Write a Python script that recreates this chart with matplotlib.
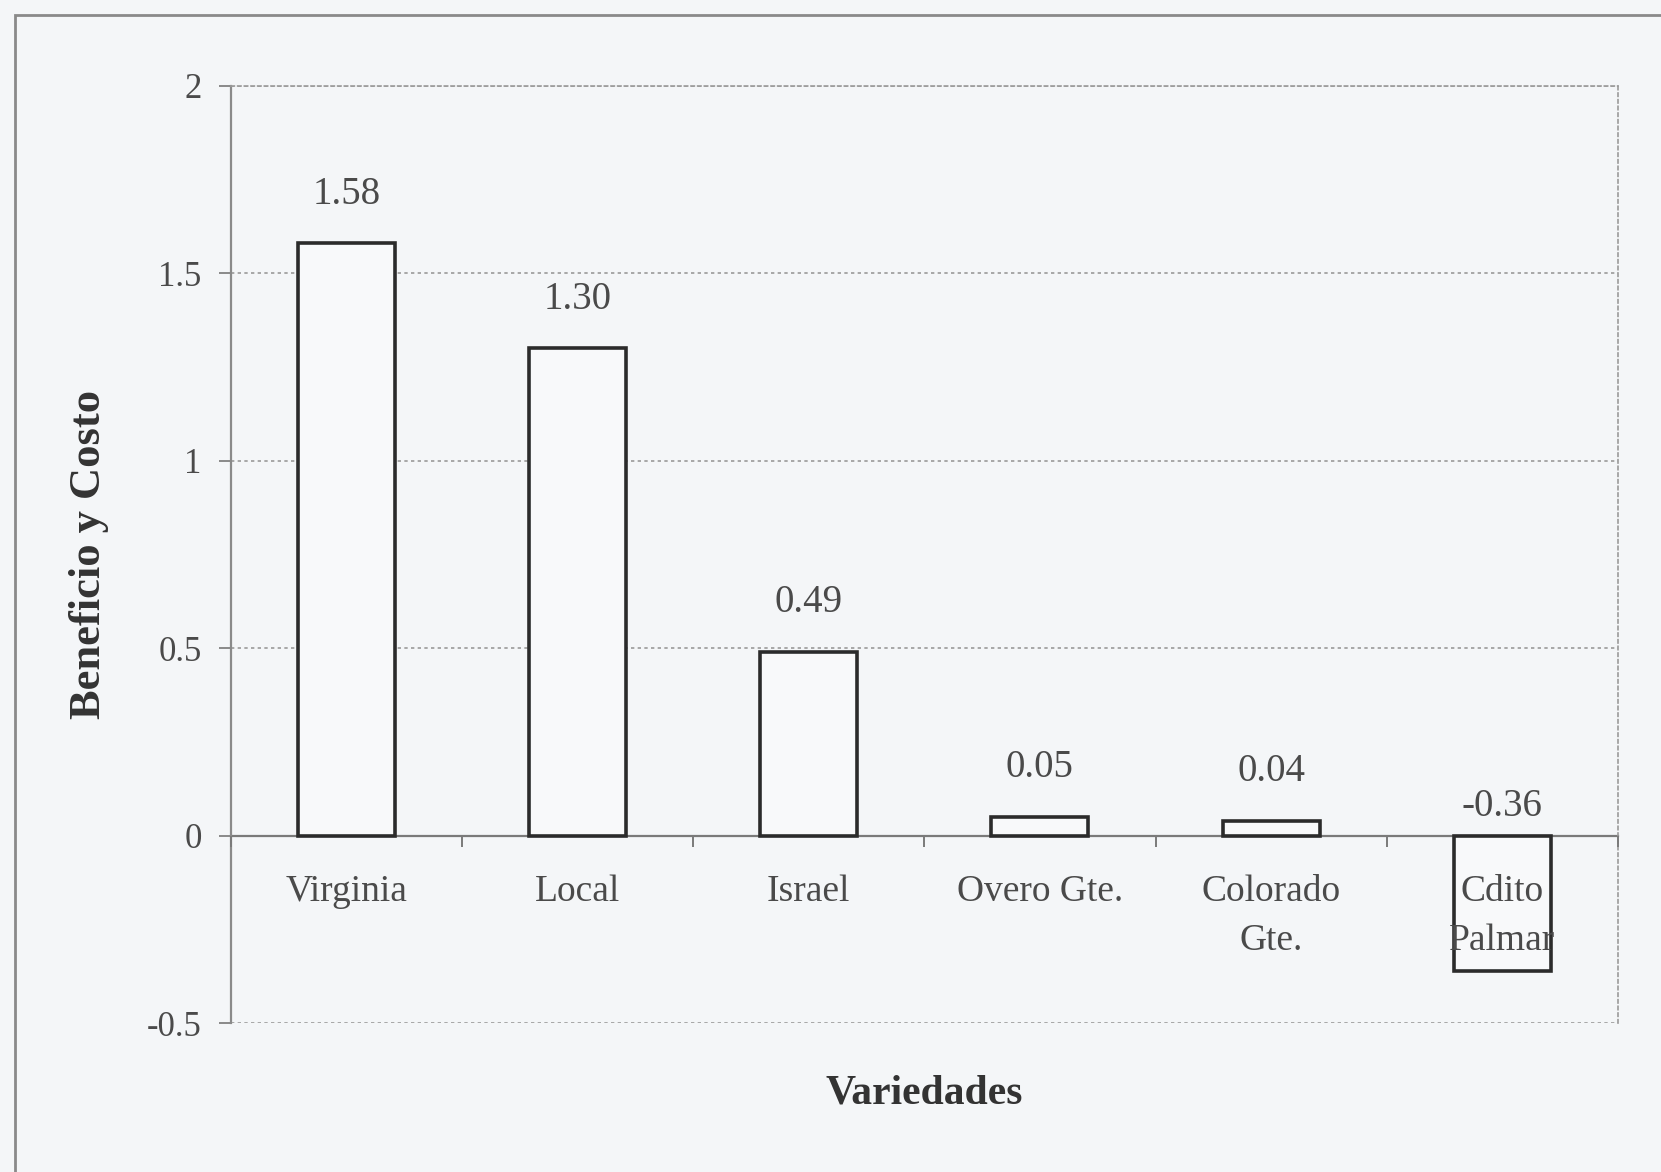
import matplotlib
matplotlib.use("Agg")
import matplotlib.pyplot as plt
from matplotlib.patches import Rectangle
from matplotlib.ticker import FixedLocator

# Benefit/cost ratio per variety
variedades = ["Virginia", "Local", "Israel", "Overo Gte.", "Colorado\nGte.", "Cdito\nPalmar"]
beneficio_costo = [1.58, 1.30, 0.49, 0.05, 0.04, -0.36]
etiquetas = ["1.58", "1.30", "0.49", "0.05", "0.04", "-0.36"]
y_ticks = [-0.5, 0, 0.5, 1, 1.5, 2]
y_tick_labels = ["-0.5", "0", "0.5", "1", "1.5", "2"]

bg = "#f4f6f8"
txt = "#4a4a4a"
grid_c = "#9a9a9a"

plt.rcParams["font.family"] = ["Liberation Serif", "DejaVu Serif"]

fig = plt.figure(figsize=(16.61, 11.72), dpi=100, facecolor=bg)
ax = fig.add_axes([0.139, 0.127, 0.835, 0.800])
ax.set_facecolor(bg)

# outer frame of the chart area
fig.patches.append(Rectangle((15 / 1661, -0.05), 1.2, 1 - 15 / 1172 + 0.05,
                             transform=fig.transFigure, fill=False,
                             edgecolor="#8a8a8a", linewidth=2.0))

x = list(range(len(variedades)))
bars = ax.bar(x, beneficio_costo, width=0.42, color="#f8f9fa",
              edgecolor="#2b2b2b", linewidth=2.6, zorder=3)

ax.set_xlim(-0.5, 5.5)
ax.set_ylim(-0.5, 2)

# dotted horizontal grid
for yv in [-0.5, 0.5, 1, 1.5, 2]:
    ax.axhline(yv, color=grid_c, linestyle=(0, (2, 2)), linewidth=1.2, zorder=1)

for side in ["top", "right"]:
    ax.spines[side].set_linestyle((0, (2, 2)))
    ax.spines[side].set_color(grid_c)
    ax.spines[side].set_linewidth(1.2)
ax.spines["left"].set_color("#8a8a8a")
ax.spines["left"].set_linewidth(1.6)
ax.spines["bottom"].set_position(("data", 0))
ax.spines["bottom"].set_color("#7a7a7a")
ax.spines["bottom"].set_linewidth(1.6)
ax.spines["bottom"].set_zorder(2)

ax.set_yticks(y_ticks)
ax.set_yticklabels(y_tick_labels)
ax.tick_params(axis="y", direction="out", length=9, width=1.4, color="#8a8a8a",
               labelsize=25, labelcolor=txt, pad=12)

ax.set_xticks(x)
ax.set_xticklabels(variedades, linespacing=1.55)
ax.xaxis.set_minor_locator(FixedLocator([i + 0.5 for i in range(-1, 6)]))
ax.tick_params(axis="x", which="major", length=0, labelsize=27,
               labelcolor=txt, pad=28)
ax.tick_params(axis="x", which="minor", direction="out", length=8, width=1.4,
               color="#7a7a7a")
# category names sit on top of the bars (the negative bar overlaps them)
ax.xaxis.set_zorder(4)

for xi, v, lab in zip(x, beneficio_costo, etiquetas):
    base = max(v, 0)
    off = 22 if v >= 0 else 8
    ax.annotate(lab, (xi, base), xytext=(0, off), textcoords="offset points",
                ha="center", va="bottom", fontsize=28, color=txt, zorder=4)

ax.set_ylabel("Beneficio y Costo", fontsize=32, fontweight="bold", color="#333333")
ax.yaxis.set_label_coords(-0.102, 0.5)
ax.set_xlabel("Variedades", fontsize=30, fontweight="bold", color="#333333")
ax.xaxis.set_label_coords(0.5, -0.075)
ax.xaxis.label.set_va("center")
ax.yaxis.label.set_va("center")

fig.savefig("out.png", dpi=100, facecolor=bg)
